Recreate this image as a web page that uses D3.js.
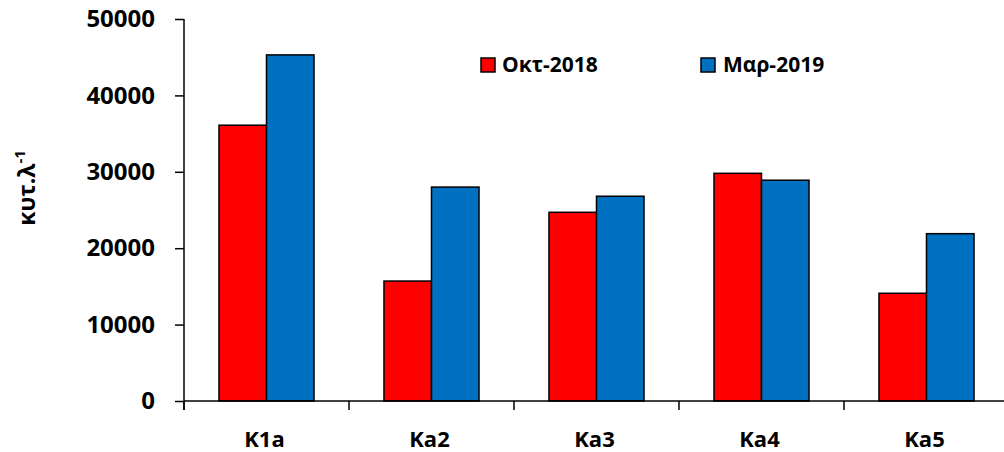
<!DOCTYPE html>
<html>
<head>
<meta charset="utf-8">
<script src="https://cdn.jsdelivr.net/npm/d3@7"></script>
<style>
  html, body { margin: 0; padding: 0; background: #fff; }
  text { font-family: "Open Sans", sans-serif; font-weight: bold; fill: #000; }
</style>
</head>
<body>
<svg id="chart" width="1004" height="452"></svg>
<script>
const categories = ["K1a", "Ka2", "Ka3", "Ka4", "Ka5"];
const seriesNames = ["Οκτ-2018", "Μαρ-2019"];
const octValues = [36100, 15700, 24700, 29800, 14100];
const marValues = [45300, 28000, 26800, 28900, 21900];
const yTicks = [0, 10000, 20000, 30000, 40000, 50000];
const seriesColors = ["#FF0000", "#0070C0"];

const svg = d3.select("#chart");
const plotLeft = 184, plotRight = 1009, plotTop = 19, plotBottom = 401;

const x0 = d3.scaleBand().domain(categories).range([plotLeft, plotRight])
  .paddingInner(0.424).paddingOuter(0.212);
const x1 = d3.scaleBand().domain(seriesNames).range([0, x0.bandwidth()]);
const y = d3.scaleLinear().domain([0, 50000]).range([plotBottom, plotTop]);

const rows = categories.map((c, i) => ({ cat: c, vals: [octValues[i], marValues[i]] }));

// bars
const g = svg.append("g");
rows.forEach(r => {
  r.vals.forEach((v, j) => {
    g.append("rect")
      .attr("x", x0(r.cat) + x1(seriesNames[j]))
      .attr("y", y(v))
      .attr("width", x1.bandwidth())
      .attr("height", y(0) - y(v))
      .attr("fill", seriesColors[j])
      .attr("stroke", "#000")
      .attr("stroke-width", 1.5);
  });
});

// y axis
const yAxis = d3.axisLeft(y).tickValues(yTicks).tickSize(9).tickPadding(20).tickFormat(d3.format("d"));
const ya = svg.append("g").attr("transform", `translate(${plotLeft},0)`).call(yAxis);
ya.select(".domain").attr("stroke", "#000").attr("stroke-width", 1.5).attr("d", `M0,${plotTop}V${plotBottom + 9}`);
ya.selectAll(".tick line").attr("stroke", "#000").attr("stroke-width", 1.5);
ya.selectAll(".tick text").style("font-size", "24px").style("font-family", "'Open Sans', sans-serif")
  .style("font-weight", "bold").attr("fill", "#000");

// x axis
const step = x0.step();
svg.append("line").attr("x1", plotLeft).attr("x2", 1004).attr("y1", plotBottom).attr("y2", plotBottom)
  .attr("stroke", "#000").attr("stroke-width", 1.5);
categories.concat(["_end"]).forEach((c, i) => {
  const xp = plotLeft + i * step;
  svg.append("line").attr("x1", xp).attr("x2", xp).attr("y1", plotBottom).attr("y2", plotBottom + 9)
    .attr("stroke", "#000").attr("stroke-width", 1.5);
});
categories.forEach(c => {
  svg.append("text")
    .attr("x", x0(c) + x0.bandwidth() / 2 - 2)
    .attr("y", 447)
    .attr("text-anchor", "middle")
    .style("font-size", "22px")
    .text(c);
});

// y label
const yl = svg.append("text")
  .attr("transform", "translate(35,188) rotate(-90)")
  .attr("text-anchor", "middle")
  .style("font-size", "23px");
yl.append("tspan").text("κυτ.λ");
yl.append("tspan").attr("dy", -10).style("font-size", "15px").text("-1");

// legend
const legendPos = [{ sx: 481, tx: 502 }, { sx: 701, tx: 723 }];
seriesNames.forEach((s, j) => {
  svg.append("rect").attr("x", legendPos[j].sx).attr("y", 58).attr("width", 14).attr("height", 14)
    .attr("fill", seriesColors[j]).attr("stroke", "#000").attr("stroke-width", 1.5);
  svg.append("text").attr("x", legendPos[j].tx).attr("y", 72).style("font-size", "21px").text(s);
});
</script>
</body>
</html>
